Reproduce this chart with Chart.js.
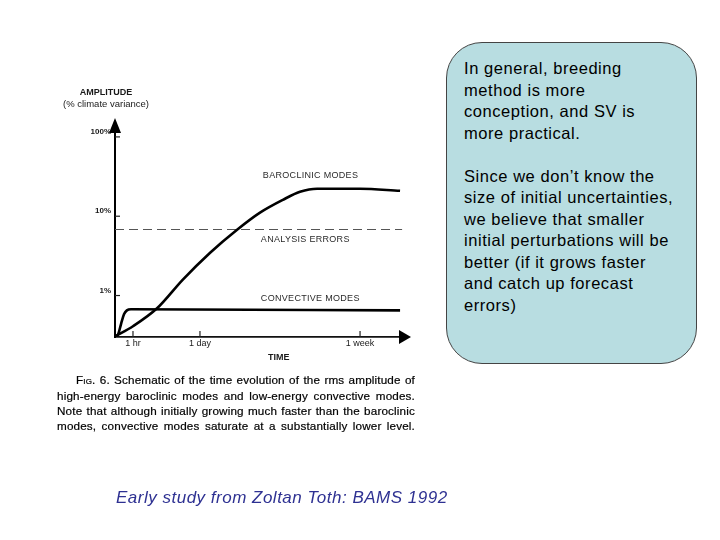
<!DOCTYPE html>
<html>
<head>
<meta charset="utf-8">
<script src="https://cdn.jsdelivr.net/npm/chart.js@4.4.1/dist/chart.umd.min.js"></script>
<style>
  html, body { margin: 0; padding: 0; background: #fff; }
  #wrap { position: relative; width: 720px; height: 540px; overflow: hidden; }
  #c { position: absolute; left: 0; top: 0; }
  .cap { position: absolute; left: 57px; width: 358px; font-family: "Liberation Sans", Arial, sans-serif;
         font-size: 11.7px; letter-spacing: 0.15px; color: #000; -webkit-text-stroke: 0.2px #000;
         text-align: justify; text-align-last: justify; white-space: nowrap; line-height: 15px; }
  #note { position: absolute; left: 446px; top: 42px; width: 251px; height: 322px; box-sizing: border-box;
          border: 1px solid #444; border-radius: 36px; background: #b8dde1;
          padding: 15px 0 0 17px; font-family: "Liberation Sans", Arial, sans-serif; font-size: 16.5px;
          letter-spacing: 0.55px; line-height: 21.55px; color: #000; }
  #src { position: absolute; left: 116px; top: 488px; font-family: "Liberation Sans", Arial, sans-serif;
         font-style: italic; font-size: 17px; letter-spacing: 0.5px; color: #2e3192; white-space: nowrap; line-height: 20px; }
</style>
</head>
<body>
<div id="wrap">
  <canvas id="c" width="720" height="540"></canvas>
  <div class="cap" style="top:372px; left:76px; width:339px;"><span style="font-variant:small-caps">Fig.</span> 6. Schematic of the time evolution of the rms amplitude of</div>
  <div class="cap" style="top:388px;">high-energy baroclinic modes and low-energy convective modes.</div>
  <div class="cap" style="top:403px;">Note that although initially growing much faster than the baroclinic</div>
  <div class="cap" style="top:418px;">modes, convective modes saturate at a substantially lower level.</div>
  <div id="note">In general, breeding<br>method is more<br>conception, and SV is<br>more practical.<br><br>Since we don’t know the<br>size of initial uncertainties,<br>we believe that smaller<br>initial perturbations will be<br>better (if it grows faster<br>and catch up forecast<br>errors)</div>
  <div id="src">Early study from Zoltan Toth: BAMS 1992</div>
</div>
<script>
// ---- data (time in schematic units 0..100, amplitude in % climate variance) ----
const baroclinicTime = [0, 6.2, 14.5, 23.4, 32.8, 42.1, 50.0, 57.9, 63.8, 69.7, 84.5, 98.3];
const baroclinicAmp  = [0.305, 0.41, 0.69, 1.59, 3.47, 6.76, 11.1, 16.1, 20.3, 22.2, 22.2, 20.9];
const convectiveTime = [0, 1.0, 2.1, 3.1, 4.1, 5.5, 98.3];
const convectiveAmp  = [0.305, 0.32, 0.44, 0.58, 0.65, 0.67, 0.65];
const analysisTime   = [0, 99];
const analysisAmp    = [6.8, 6.8];
const timeTickValues = [6.2, 29.3, 84.5];
const timeTickLabels = ['1 hr', '1 day', '1 week'];
const ampTickValues  = [1, 10, 100];
const ampTickLabels  = ['1%', '10%', '100%'];
const curveLabels    = ['BAROCLINIC MODES', 'ANALYSIS ERRORS', 'CONVECTIVE MODES'];

const pts = (xs, ys) => xs.map((x, i) => ({ x: x, y: ys[i] }));
const FONT = '"Liberation Sans", Arial, sans-serif';

const decor = {
  id: 'decor',
  afterDraw(chart) {
    const ctx = chart.ctx, xs = chart.scales.x, ys = chart.scales.y, a = chart.chartArea;
    ctx.save();
    ctx.fillStyle = '#000'; ctx.strokeStyle = '#000';
    // y axis arrow
    ctx.beginPath(); ctx.moveTo(a.left, a.top + 1); ctx.lineTo(a.left, a.top - 4); ctx.lineWidth = 2; ctx.stroke();
    ctx.beginPath(); ctx.moveTo(a.left - 6, a.top); ctx.lineTo(a.left + 6, a.top); ctx.lineTo(a.left, a.top - 15); ctx.closePath(); ctx.fill();
    // x axis arrow
    ctx.beginPath(); ctx.moveTo(a.right - 2, a.bottom); ctx.lineTo(a.right + 3, a.bottom); ctx.lineWidth = 1.5; ctx.stroke();
    ctx.beginPath(); ctx.moveTo(a.right - 6, a.bottom - 7); ctx.lineTo(a.right - 6, a.bottom + 7); ctx.lineTo(a.right + 6, a.bottom); ctx.closePath(); ctx.fill();
    // inside ticks
    ctx.lineWidth = 1.2; ctx.strokeStyle = '#222';
    ampTickValues.forEach(v => { const y = ys.getPixelForValue(v); ctx.beginPath(); ctx.moveTo(a.left, y); ctx.lineTo(a.left + 5, y); ctx.stroke(); });
    timeTickValues.forEach(v => { const x = xs.getPixelForValue(v); ctx.beginPath(); ctx.moveTo(x, a.bottom); ctx.lineTo(x, a.bottom - 6); ctx.stroke(); });
    // curve labels
    ctx.fillStyle = '#2a2a2a'; ctx.textBaseline = 'middle'; ctx.textAlign = 'left';
    ctx.font = '9px ' + FONT;
    if ('letterSpacing' in ctx) ctx.letterSpacing = '0.3px';
    const lx = xs.getPixelForValue(50.3);
    ctx.fillText(curveLabels[0], lx + 2, ys.getPixelForValue(33));
    ctx.fillText(curveLabels[1], lx, ys.getPixelForValue(5.06));
    ctx.fillText(curveLabels[2], lx, ys.getPixelForValue(0.92));
    if ('letterSpacing' in ctx) ctx.letterSpacing = '0px';
    // axis titles
    ctx.textAlign = 'center'; ctx.fillStyle = '#1a1a1a';
    ctx.font = 'bold 9px ' + FONT;
    ctx.fillText('AMPLITUDE', 106, 93);
    ctx.font = '9.5px ' + FONT;
    ctx.fillText('(% climate variance)', 106, 104);
    ctx.font = 'bold 9px ' + FONT;
    ctx.fillText('TIME', xs.getPixelForValue(56.5), 358);
    ctx.restore();
  }
};

new Chart(document.getElementById('c'), {
  type: 'line',
  data: {
    datasets: [
      { data: pts(baroclinicTime, baroclinicAmp), borderColor: '#000', borderWidth: 2.6, pointRadius: 0, cubicInterpolationMode: 'monotone', fill: false },
      { data: pts(convectiveTime, convectiveAmp), borderColor: '#000', borderWidth: 2.6, pointRadius: 0, cubicInterpolationMode: 'monotone', fill: false },
      { data: pts(analysisTime, analysisAmp), borderColor: '#555', borderWidth: 1.2, borderDash: [9, 5], pointRadius: 0, fill: false }
    ]
  },
  options: {
    responsive: false, animation: false, events: [],
    layout: { padding: { top: 133, right: 315, bottom: 0, left: 0 } },
    plugins: { legend: { display: false }, tooltip: { enabled: false } },
    scales: {
      x: {
        type: 'linear', min: 0, max: 100,
        afterFit: s => { s.height = 203; },
        afterBuildTicks: s => { s.ticks = timeTickValues.map(v => ({ value: v })); },
        ticks: { autoSkip: false, maxRotation: 0, padding: 1, color: '#1a1a1a', font: { family: FONT, size: 9 },
                 callback: (v) => timeTickLabels[timeTickValues.indexOf(v)] },
        grid: { display: true, drawOnChartArea: false, drawTicks: false },
        border: { display: true, color: '#111', width: 1.8 }
      },
      y: {
        type: 'logarithmic', min: 0.305, max: 112,
        afterFit: s => { s.width = 115; },
        afterBuildTicks: s => { s.ticks = ampTickValues.map(v => ({ value: v })); },
        ticks: { autoSkip: false, padding: 4, labelOffset: -5, color: '#1a1a1a', font: { family: FONT, size: 8, weight: 'bold' },
                 callback: (v) => ampTickLabels[ampTickValues.indexOf(v)] },
        grid: { display: true, drawOnChartArea: false, drawTicks: false },
        border: { display: true, color: '#000', width: 2 }
      }
    }
  },
  plugins: [decor]
});
</script>
</body>
</html>
